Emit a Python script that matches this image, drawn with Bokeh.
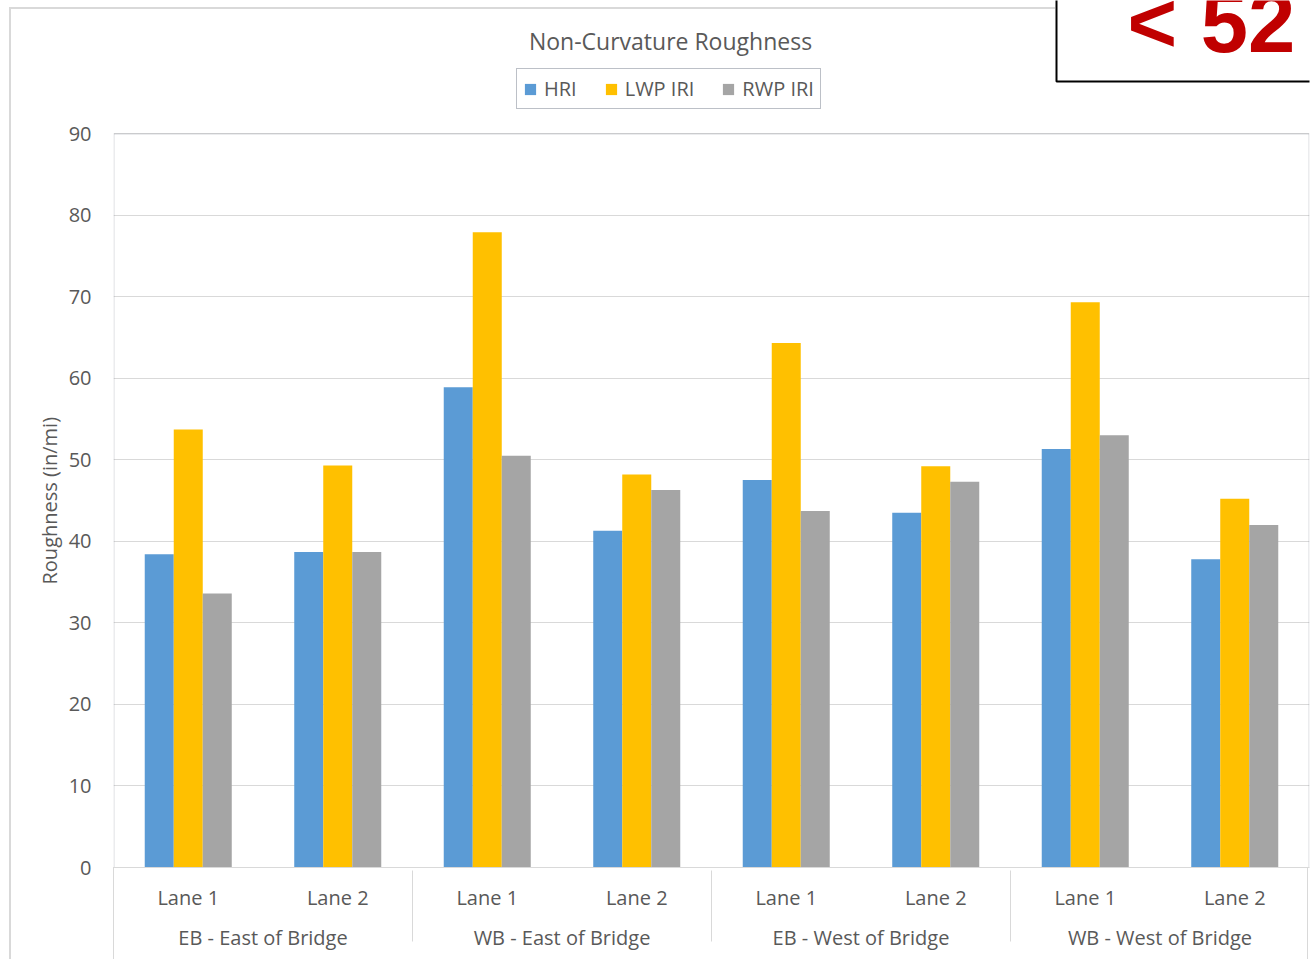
from bokeh.plotting import figure
from bokeh.models import (FactorRange, Range1d, FixedTicker, Legend, LegendItem,
                          Label, BoxAnnotation, ColumnDataSource, Spacer, Title)
from bokeh.layouts import column
from bokeh.transform import dodge
from bokeh.embed import file_html
from bokeh.resources import INLINE

# Sections and lanes (two-level category axis)
groups = ["EB - East of Bridge", "WB - East of Bridge",
          "EB - West of Bridge", "WB - West of Bridge"]
lanes = ["Lane 1", "Lane 2"]

# Roughness values (in/mi), one per section/lane
hri = [38.4, 38.7, 58.9, 41.3, 47.5, 43.5, 51.3, 37.8]
lwp_iri = [53.7, 49.3, 77.9, 48.2, 64.3, 49.2, 69.3, 45.2]
rwp_iri = [33.6, 38.7, 50.5, 46.3, 43.7, 47.3, 53.0, 42.0]

series_names = ["HRI", "LWP IRI", "RWP IRI"]
series_colors = ["#5B9BD5", "#FFC000", "#A5A5A5"]
y_ticks = [0, 10, 20, 30, 40, 50, 60, 70, 80, 90]
y_max = 90

threshold_text = "< 52"
chart_title = "Non-Curvature Roughness"
y_title = "Roughness (in/mi)"

FONT = "Open Sans"
TXT = "#595959"
BORDER = "#7a828f"
LIGHT = "#d9d9d9"

# Page / plot-area geometry in pixels
W, H = 1312, 959
PLOT_LEFT, PLOT_RIGHT = 113, 1309
PLOT_TOP, PLOT_BOTTOM = 133, 867
FRAME_TOP = 0            # the frame also holds the header (title, legend, box)

px_per_unit = (PLOT_BOTTOM - PLOT_TOP) / y_max
y_frame_top = (PLOT_BOTTOM - FRAME_TOP) / px_per_unit


def sx(px):
    """page x -> frame-relative screen x"""
    return px - PLOT_LEFT


def sy(py):
    """page y (from top) -> frame-relative screen y (from frame bottom)"""
    return PLOT_BOTTOM - py


factors = [(g, l) for g in groups for l in lanes]
src = ColumnDataSource(dict(x=factors, hri=hri, lwp=lwp_iri, rwp=rwp_iri))

p = figure(width=W, height=H, output_backend="svg", toolbar_location=None,
           x_range=FactorRange(*factors, factor_padding=0, group_padding=0,
                               subgroup_padding=0, range_padding=0),
           y_range=Range1d(0, y_frame_top),
           min_border_left=PLOT_LEFT, min_border_right=W - PLOT_RIGHT,
           min_border_top=FRAME_TOP, min_border_bottom=H - PLOT_BOTTOM)

p.background_fill_color = "white"
p.border_fill_color = "white"
p.outline_line_color = None

bw = 0.194
renderers = []
for off, col, color in zip([-bw, 0, bw], ["hri", "lwp", "rwp"], series_colors):
    r = p.vbar(x=dodge("x", off, range=p.x_range), top=col, width=bw,
               source=src, fill_color=color, line_color=None)
    renderers.append(r)

# plot-area border: top, left and right edges (bottom edge left to the axis)
p.add_layout(BoxAnnotation(bottom=-3, top=sy(PLOT_TOP) - 0.5, left=0.5,
                           right=PLOT_RIGHT - PLOT_LEFT - 0.5,
                           left_units="screen", right_units="screen",
                           top_units="screen", bottom_units="screen",
                           fill_alpha=0, line_color=BORDER, line_width=1,
                           level="underlay"))

# y axis
p.yaxis.ticker = FixedTicker(ticks=y_ticks)
p.yaxis.axis_line_color = None
p.yaxis.major_tick_line_color = None
p.yaxis.minor_tick_line_color = None
p.yaxis.major_label_text_font = FONT
p.yaxis.major_label_text_font_size = "20px"
p.yaxis.major_label_text_color = TXT
p.yaxis.major_label_standoff = 16

# y title, centred on the 0..90 span (text starts at the lower end)
plot_mid = (PLOT_TOP + PLOT_BOTTOM) / 2
half_len = 84
p.add_layout(Title(text=y_title, align="left",
                   offset=PLOT_BOTTOM - (plot_mid + half_len),
                   text_font=FONT, text_font_size="20px",
                   text_font_style="normal", text_color=TXT, standoff=6), "left")

p.ygrid.grid_line_color = LIGHT
p.xgrid.grid_line_color = None

# x axis (lane / section)
xa = p.xaxis[0]
xa.axis_line_color = LIGHT
xa.major_tick_line_color = None
xa.minor_tick_line_color = None
xa.major_label_text_font = FONT
xa.major_label_text_font_size = "20px"
xa.major_label_text_color = TXT
xa.major_label_standoff = 10
xa.group_text_font = FONT
xa.group_text_font_size = "20px"
xa.group_text_font_style = "normal"
xa.group_text_color = TXT
xa.separator_line_color = LIGHT
xa.separator_line_width = 1

# legend in the header area
items = [LegendItem(label=n, renderers=[r]) for n, r in zip(series_names, renderers)]
leg = Legend(items=items, orientation="horizontal", location=(sx(516), sy(109)),
             border_line_color=BORDER, border_line_width=1,
             label_text_font=FONT, label_text_font_size="20px",
             label_text_color=TXT, glyph_width=14, glyph_height=14,
             spacing=27, padding=6, margin=0, label_standoff=7,
             background_fill_alpha=1)
p.add_layout(leg, "center")

# chart title
p.add_layout(Label(x=sx(670), y=sy(40), x_units="screen", y_units="screen",
                   text=chart_title, text_font=FONT, text_font_size="23px",
                   text_color=TXT, text_align="center", text_baseline="middle"))

# threshold box, top right
p.add_layout(Label(x=sx(1056), y=sy(81), x_units="screen", y_units="screen",
                   text=threshold_text, text_font="Liberation Sans",
                   text_font_style="bold", text_font_size="85px",
                   text_color="#C00000", anchor="bottom_left",
                   padding=dict(left=71, right=40, top=10, bottom=12),
                   border_line_color="black", border_line_width=2,
                   background_fill_color="white"))

# light chart-area border along the left and top edges
edge = Spacer(width=1046, height=1000,
              styles={"position": "absolute", "left": "9px", "top": "7px",
                      "border-left": "2px solid #d9d9d9",
                      "border-top": "2px solid #d9d9d9",
                      "pointer-events": "none"})
# end lines of the category axis
cat_ends = Spacer(width=PLOT_RIGHT - PLOT_LEFT - 1, height=H - PLOT_BOTTOM,
                  styles={"position": "absolute", "left": f"{PLOT_LEFT}px",
                          "top": f"{PLOT_BOTTOM}px",
                          "border-left": "1px solid #d9d9d9",
                          "border-right": "1px solid #d9d9d9",
                          "pointer-events": "none"})

page = column(p, edge, cat_ends, styles={"position": "relative"})
open("out.html", "w").write(file_html(page, INLINE))
